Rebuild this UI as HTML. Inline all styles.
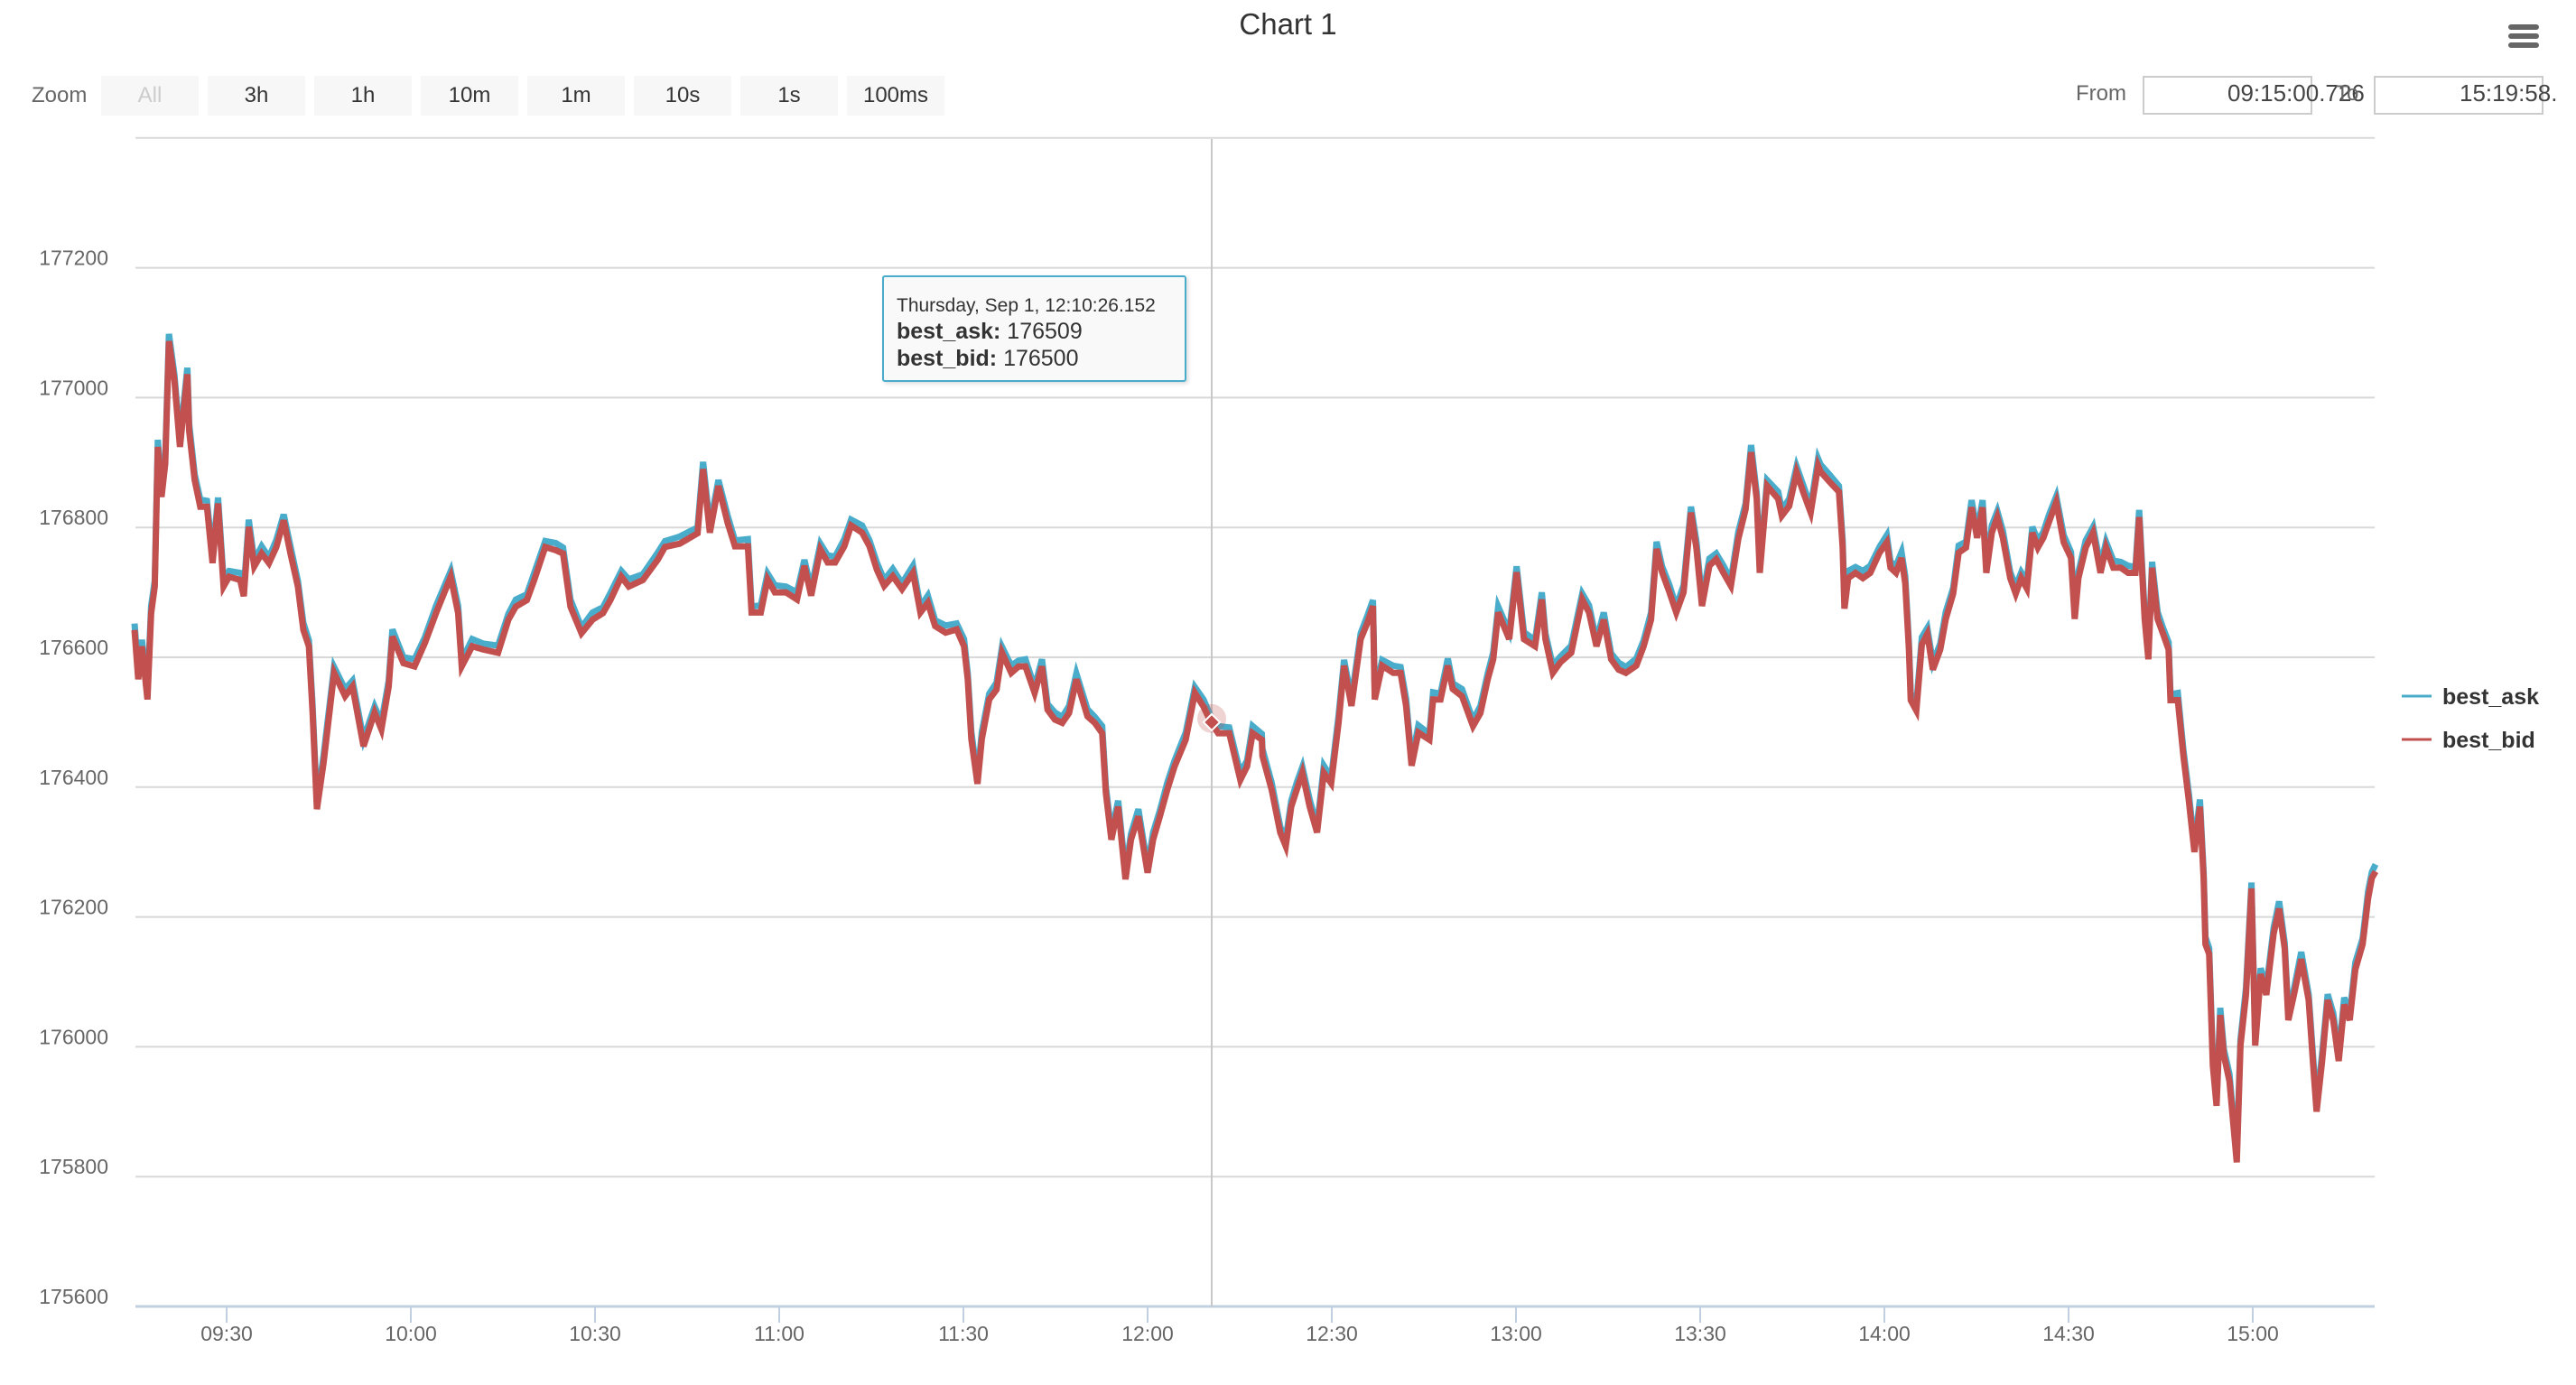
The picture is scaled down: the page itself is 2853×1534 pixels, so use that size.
<!DOCTYPE html>
<html><head><meta charset="utf-8">
<style>
html,body{margin:0;padding:0;background:#fff;}
body{width:2853px;height:1534px;position:relative;overflow:hidden;font-family:"Liberation Sans",sans-serif;}
.btn{position:absolute;top:84px;width:108px;height:44px;background:#f7f7f7;color:#333;font-size:24px;line-height:44px;text-align:center;}
.abs{position:absolute;white-space:nowrap;}
</style></head>
<body>
<div class="abs" style="left:0;width:2853px;top:8px;text-align:center;font-size:33px;color:#333;">Chart 1</div>
<div style="position:absolute;left:2778px;top:27px;width:34px;height:26px;">
 <div style="position:absolute;top:0;left:0;width:34px;height:6px;background:#666;border-radius:3px;"></div>
 <div style="position:absolute;top:10px;left:0;width:34px;height:6px;background:#666;border-radius:3px;"></div>
 <div style="position:absolute;top:20px;left:0;width:34px;height:6px;background:#666;border-radius:3px;"></div>
</div>
<div class="abs" style="left:35px;top:92px;font-size:24px;color:#666;">Zoom</div>
<div class="btn" style="left:112px;color:#ccc;">All</div>
<div class="btn" style="left:230px;">3h</div>
<div class="btn" style="left:348px;">1h</div>
<div class="btn" style="left:466px;">10m</div>
<div class="btn" style="left:584px;">1m</div>
<div class="btn" style="left:702px;">10s</div>
<div class="btn" style="left:820px;">1s</div>
<div class="btn" style="left:938px;">100ms</div>
<div class="abs" style="left:2299px;top:90px;font-size:24px;color:#666;">From</div>
<div style="position:absolute;left:2373px;top:84px;width:184px;height:39px;border:2px solid #ccc;"></div>
<div class="abs" style="left:2467px;top:88px;font-size:26px;color:#444;">09:15:00.726</div>
<div class="abs" style="left:2587px;top:90px;font-size:24px;color:#666;">To</div>
<div style="position:absolute;left:2629px;top:84px;width:184px;height:39px;border:2px solid #ccc;"></div>
<div class="abs" style="left:2724px;top:88px;font-size:26px;color:#444;">15:19:58.</div>

<svg id="chart" width="2853" height="1534" style="position:absolute;left:0;top:0;" xmlns="http://www.w3.org/2000/svg"></svg>

<div style="position:absolute;left:977px;top:305px;width:333px;height:114px;background:rgba(248,248,248,0.92);border:2px solid #4aaccb;border-radius:3px;box-shadow:2px 2px 5px rgba(0,0,0,0.15);font-family:'Liberation Sans',sans-serif;color:#333;">
 <div class="abs" style="left:14px;top:20px;font-size:21px;">Thursday, Sep 1, 12:10:26.152</div>
 <div class="abs" style="left:14px;top:46px;font-size:25px;"><b>best_ask:</b> 176509</div>
 <div class="abs" style="left:14px;top:76px;font-size:25px;"><b>best_bid:</b> 176500</div>
</div>

<script>
const tickLabelsY = [175600,175800,176000,176200,176400,176600,176800,177000,177200];
const tickLabelsX = ["09:30","10:00","10:30","11:00","11:30","12:00","12:30","13:00","13:30","14:00","14:30","15:00"];
const tickMinutesX = [15,45,75,105,135,165,195,225,255,285,315,345];
const times = [0,0.6,1.2,2.1,2.7,3.3,3.8,4.4,5.0,5.6,6.5,7.4,8.6,8.9,9.8,10.7,11.8,12.7,13.6,14.5,15.4,17.2,17.8,18.6,19.5,20.7,21.9,23.1,24.3,25.4,26.6,27.5,28.4,29.0,29.7,30.8,32.5,34.3,35.5,37.3,39.1,40.2,41.4,42.0,43.8,45.6,47.3,49.1,51.5,52.7,53.3,55.0,56.8,59.2,60.9,62.1,63.9,65.1,66.9,68.6,69.8,71.0,72.8,74.6,76.3,77.5,79.3,80.5,82.8,85.2,86.4,88.8,91.7,92.6,
93.7,95.1,96.6,97.8,99.9,100.5,102.0,103.1,104.3,106.1,107.9,109.1,110.2,111.7,112.9,114.1,115.6,116.7,118.5,119.7,120.9,122.1,123.5,125.0,126.8,128.0,129.2,130.4,132.1,133.9,135.1,135.7,136.3,137.3,138.0,139.2,140.4,141.3,142.8,144.0,145.1,146.6,147.8,148.7,149.9,151.1,152.2,153.4,155.2,156.4,157.6,158.2,159.1,160.2,161.4,162.3,163.5,165.0,165.9,167.0,168.2,169.4,171.2,172.7,174.1,175.3,176.5,178.3,180.1,181.2,182.1,183.6,
183.7,185.2,186.6,187.5,188.4,189.3,190.2,191.4,192.6,193.7,194.9,196.1,197.0,198.2,199.7,200.8,201.7,202.0,203.2,205.0,206.2,207.1,208.0,209.1,210.9,211.5,212.7,213.9,214.7,216.2,218.0,219.2,220.4,221.3,222.1,223.9,225.1,226.3,228.1,229.2,229.8,231.0,232.2,234.0,235.8,236.9,238.1,239.3,240.5,241.7,242.9,244.6,245.8,247.0,247.6,247.9,248.8,250.0,251.1,252.3,253.5,254.4,255.3,256.5,257.6,258.8,260.0,261.2,262.4,263.3,264.2,264.7,265.9,267.7,268.3,269.5,270.7,271.8,273.0,274.2,
274.6,276.1,277.6,278.2,278.5,279.1,280.3,281.5,282.7,284.2,285.4,286.0,286.9,287.8,288.4,289.0,289.3,290.2,291.1,292.0,292.9,294.1,295.0,296.2,297.1,298.3,299.2,300.1,301.0,301.6,302.5,303.4,304.3,305.5,306.4,307.3,308.2,309.1,310.0,310.9,311.8,313.0,314.2,315.4,316.0,316.6,317.8,319.0,320.2,321.1,322.3,323.5,324.7,325.9,326.5,327.4,328.0,328.6,329.5,330.4,331.3,331.6,332.8,333.7,334.6,335.5,336.4,337.0,337.3,337.9,338.5,339.1,339.7,340.3,341.2,342.1,342.4,343.0,343.9,344.8,345.4,346.3,347.2,348.4,349.3,350.2,350.8,351.7,352.9,354.1,354.8,355.4,356.3,357.2,358.1,359.0,359.9,360.8,361.7,362.9,363.8,364.4,365.0];
const bestBid = [176642,176566,176617,176535,176668,176709,176924,176847,176898,177087,177026,176924,177036,176949,176873,176832,176832,176745,176837,176709,176724,176719,176694,176801,176740,176760,176745,176770,176811,176760,176709,176642,176617,176515,176366,176438,176576,176540,176555,176463,176515,176489,176555,176632,176591,176586,176622,176668,176724,176668,176586,176617,176612,176607,176658,176678,176688,176719,176770,176765,176760,176678,176637,176658,176668,176688,176724,176709,176719,176750,176770,176775,176791,176890,
176792,176864,176807,176771,176771,176669,176669,176720,176700,176700,176689,176741,176695,176766,176746,176746,176771,176803,176792,176771,176735,176710,176725,176705,176730,176669,176684,176648,176638,176643,176617,176566,176474,176405,176474,176535,176550,176607,176576,176586,176586,176545,176586,176519,176504,176499,176514,176566,176509,176499,176483,176391,176319,176370,176258,176319,176355,176268,176319,176355,176396,176432,176473,176545,176524,176500,176483,176483,176411,176432,176483,176473,
176448,176396,176330,176309,176370,176396,176422,176370,176330,176422,176406,176499,176587,176525,176628,176653,176679,176535,176587,176576,176576,176525,176433,176484,176473,176535,176535,176587,176551,176540,176494,176514,176566,176597,176669,176628,176731,176628,176617,176689,176628,176576,176592,176607,176689,176669,176617,176658,176597,176581,176576,176587,176617,176658,176731,176767,176731,176700,176669,176700,176823,176767,176679,176741,176751,176730,176710,176782,176828,176916,176844,176730,176864,176844,176818,176833,176885,176854,176823,176895,
176886,176870,176855,176769,176675,176722,176730,176722,176730,176761,176777,176738,176730,176753,176714,176612,176534,176518,176620,176636,176581,176612,176659,176698,176761,176769,176831,176784,176831,176730,176792,176816,176784,176722,176698,176722,176706,176792,176769,176784,176808,176839,176777,176753,176659,176722,176769,176792,176730,176769,176738,176738,176730,176730,176816,176659,176597,176738,176659,176636,176612,176534,176534,176448,176378,176300,176370,176260,176158,176143,175971,175909,176049,175987,175947,175853,175822,176002,176080,176244,176002,176112,176080,176174,176213,176151,176041,176080,176135,176072,175978,175900,175978,176072,176041,175978,176065,176041,176119,176158,176229,176260,176270];
const bestAsk = [176652,176578,176627,176546,176679,176718,176935,176858,176907,177098,177035,176935,177046,176960,176882,176843,176841,176756,176846,176720,176733,176730,176703,176812,176749,176771,176754,176781,176820,176771,176718,176653,176626,176526,176375,176449,176585,176551,176564,176474,176524,176500,176564,176643,176600,176597,176631,176679,176733,176679,176595,176628,176621,176618,176667,176689,176697,176730,176779,176776,176769,176689,176646,176669,176677,176699,176733,176720,176728,176761,176779,176786,176800,176901,
176803,176873,176818,176780,176782,176678,176680,176729,176711,176709,176700,176750,176706,176775,176757,176755,176782,176812,176803,176780,176746,176719,176736,176714,176741,176678,176695,176657,176649,176652,176628,176575,176485,176414,176485,176544,176561,176616,176587,176595,176597,176554,176597,176528,176515,176508,176525,176575,176520,176508,176494,176400,176330,176379,176269,176328,176366,176277,176330,176364,176407,176441,176484,176554,176535,176509,176494,176492,176422,176441,176494,176482,
176459,176407,176339,176320,176379,176407,176431,176381,176339,176433,176415,176510,176596,176536,176637,176664,176688,176546,176596,176587,176585,176536,176442,176495,176482,176546,176544,176598,176560,176551,176503,176525,176575,176608,176678,176639,176740,176639,176626,176700,176637,176587,176601,176618,176698,176680,176626,176669,176606,176592,176585,176598,176626,176669,176740,176778,176740,176711,176678,176711,176832,176778,176688,176752,176760,176741,176719,176793,176837,176927,176853,176741,176873,176855,176827,176844,176894,176865,176832,176906,
176897,176881,176864,176780,176684,176733,176739,176733,176741,176770,176788,176747,176741,176762,176725,176621,176545,176527,176631,176645,176592,176621,176670,176707,176772,176778,176842,176793,176842,176739,176803,176825,176795,176731,176709,176731,176717,176801,176780,176793,176819,176848,176788,176762,176670,176731,176780,176801,176741,176778,176749,176747,176741,176739,176827,176668,176608,176747,176670,176645,176623,176543,176545,176457,176389,176309,176381,176269,176169,176152,175982,175918,176060,175996,175958,175862,175833,176011,176091,176253,176013,176121,176091,176183,176224,176160,176052,176089,176146,176081,175989,175909,175989,176081,176052,175987,176076,176050,176130,176167,176240,176269,176281];
const crosshairMinute = 175.44;
const crosshairBid = 176500;

const NS = "http://www.w3.org/2000/svg";
const svg = document.getElementById("chart");
const plotL = 150, plotR = 2630, plotT = 154, plotB = 1447;
function xScale(m){ return 149 + m * 6.8; }
function yScale(v){ return plotB - (v - 175600) * (143.8 / 200); }
function mk(tag, attrs){ const e = document.createElementNS(NS, tag); for (const k in attrs) e.setAttribute(k, attrs[k]); svg.appendChild(e); return e; }

let g0 = mk("line", {x1:plotL, x2:plotR, y1:yScale(177400), y2:yScale(177400), stroke:"#d8d8d8", "stroke-width":2});


tickLabelsY.forEach(function(v){
  if (v > 175600) {
    const gl = mk("line", {x1:plotL, x2:plotR, y1:yScale(v), y2:yScale(v), stroke:"#d8d8d8", "stroke-width":2});
    
    
  }
  const t = mk("text", {x:120, y:yScale(v) - 3, "text-anchor":"end", "font-size":23, fill:"#666", "font-family":"Liberation Sans, sans-serif"});
  t.textContent = v;
  
  
});
const ax = mk("line", {x1:plotL, x2:plotR, y1:plotB, y2:plotB, stroke:"#c0d0e0", "stroke-width":3});


tickLabelsX.forEach(function(lbl, i){
  const x = xScale(tickMinutesX[i]);
  const tk = mk("line", {x1:x, x2:x, y1:plotB, y2:plotB + 18, stroke:"#c0d0e0", "stroke-width":2});
  
  
  const t = mk("text", {x:x, y:plotB + 38, "text-anchor":"middle", "font-size":23, fill:"#666", "font-family":"Liberation Sans, sans-serif"});
  t.textContent = lbl;
  
  
});
const ch = mk("line", {x1:xScale(crosshairMinute), x2:xScale(crosshairMinute), y1:plotT, y2:plotB, stroke:"#c8c8c8", "stroke-width":2});



function pts(vals){
  const n = Math.min(times.length, vals.length);
  let s = "";
  for (let i = 0; i < n; i++) s += xScale(times[i]).toFixed(1) + "," + yScale(vals[i]).toFixed(1) + " ";
  return s;
}
const askLine = mk("polyline", {points:pts(bestAsk), fill:"none", stroke:"#4aaccb", "stroke-width":7, "stroke-linejoin":"miter"});


const bidLine = mk("polyline", {points:pts(bestBid), fill:"none", stroke:"#c1504e", "stroke-width":7, "stroke-linejoin":"miter"});



const cx = xScale(crosshairMinute), cy = yScale(crosshairBid);
const halo = mk("circle", {cx:cx, cy:cy - 4, r:16, fill:"rgba(193,80,78,0.25)"});


const dm = mk("polygon", {points:(cx)+","+(cy-9)+" "+(cx+9)+","+cy+" "+cx+","+(cy+9)+" "+(cx-9)+","+cy, fill:"#c1504e", stroke:"#fff", "stroke-width":2});



[["best_ask","#4aaccb",771],["best_bid","#c1504e",819]].forEach(function(l){
  const ln = mk("line", {x1:2660, x2:2693, y1:l[2], y2:l[2], stroke:l[1], "stroke-width":3});
  
  
  const t = mk("text", {x:2705, y:l[2] + 9, "font-size":25, "font-weight":"bold", fill:"#333", "font-family":"Liberation Sans, sans-serif"});
  t.textContent = l[0];
  
  
});
</script>
</body></html>
